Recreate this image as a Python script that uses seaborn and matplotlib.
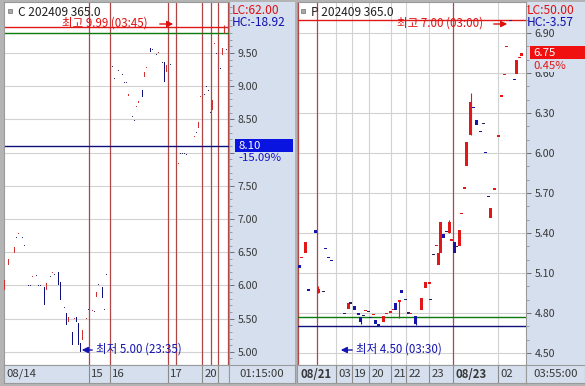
import numpy as np
import matplotlib
matplotlib.use("Agg")
import matplotlib.pyplot as plt
import matplotlib.transforms as mtransforms
from matplotlib.patches import Rectangle, FancyArrowPatch
from matplotlib.ticker import FixedLocator
import seaborn as sns

# ---------------- data: call option (left) ----------------
call_title = "C 202409 365.0"
call_lc = "LC:62.00"
call_hc = "HC:-18.92"
call_x = [0, 2, 5, 6, 7, 9, 10, 12, 13, 14, 16, 17, 18, 20, 21, 23, 24, 25, 27, 28,
          30, 31, 32, 34, 35, 36, 37, 38, 39, 41, 42, 44, 45, 46, 47, 49, 50, 51,
          54, 55, 57, 59, 60, 61, 62, 64, 65, 66, 67, 69, 70, 71, 73, 74, 76, 77, 79, 80, 81, 83,
          87, 88, 89, 90, 91, 95, 96, 97, 98, 100, 101, 102, 103, 104, 105, 106, 108, 109, 110, 111]
call_open = [5.93, 6.31, 6.49, 6.72, 6.785, 6.72, 6.60, 6.00, 6.00, 6.135, 6.15, 6.00, 6.00, 5.98, 5.93, 6.14, 6.185, 6.16, 6.20, 6.05,
             5.67, 5.58, 5.45, 5.30, 5.505, 5.52, 5.43, 5.13, 5.18, 5.505, 5.63, 5.625, 5.60, 5.83, 6.01, 5.97, 5.63, 6.16,
             9.30, 9.12, 9.24, 9.17, 9.06, 9.05, 8.85, 8.54, 8.49, 8.685, 8.74, 8.94, 9.14, 9.285, 9.57, 9.56, 9.47, 9.505, 9.36, 9.36, 9.22, 9.32,
             7.835, 7.98, 7.99, 7.98, 7.97, 8.245, 8.30, 8.37, 8.835, 8.87, 8.99, 8.945, 8.60, 8.64, 9.645, 9.50, 9.275, 9.47, 9.80, 9.55]
call_close = [6.08, 6.40, 6.58, 6.72, 6.79, 6.72, 6.60, 6.00, 6.00, 6.14, 6.15, 6.00, 6.00, 5.70, 6.04, 6.14, 6.19, 6.16, 6.00, 5.78,
              5.67, 5.40, 5.52, 5.10, 5.51, 5.45, 5.10, 5.00, 5.33, 5.51, 5.63, 5.63, 5.60, 5.90, 6.01, 5.81, 5.63, 6.16,
              9.30, 9.12, 9.24, 9.17, 9.06, 9.05, 8.88, 8.54, 8.49, 8.69, 8.77, 8.84, 9.21, 9.29, 9.52, 9.56, 9.47, 9.51, 9.36, 9.06, 9.32, 9.32,
              7.84, 7.98, 7.99, 7.98, 7.97, 8.25, 8.30, 8.46, 8.84, 8.87, 8.99, 8.94, 8.60, 8.79, 9.65, 9.50, 9.27, 9.57, 9.88, 9.55]
call_wick_x = [110]
call_wick_hi = [9.92]
call_wick_lo = [9.80]
call_sessions = [42.5, 53, 82, 86, 99, 103.6, 107, 111.75]
call_seps = [42.5, 53, 82, 99, 107]
call_date_pos = [0, 42.5, 53, 82, 99]
call_date_lab = ["08/14", "15", "16", "17", "20"]
call_date_bold = [False, False, False, False, False]
call_time = "01:15:00"
call_major = [5.0, 5.5, 6.0, 6.5, 7.0, 7.5, 8.0, 8.5, 9.0, 9.5]
call_major_lab = ["5.00", "5.50", "6.00", "6.50", "7.00", "7.50", "", "8.50", "9.00", "9.50"]
call_top_line = 9.89
call_green_line = 9.80
call_last = 8.10
call_last_lab = "8.10"
call_pct = "-15.09%"
call_max_lab = "최고 9.99 (03:45)"
call_min_lab = "최저 5.00 (23:35)"

# ---------------- data: put option (right) ----------------
put_title = "P 202409 365.0"
put_lc = "LC:50.00"
put_hc = "HC:-3.57"
put_x = [0.5, 1.5, 3, 4, 7, 8, 10, 11, 12, 13.5, 18.5, 20, 21, 22.5, 24, 25, 26, 27, 28, 29,
         30, 31, 32, 34, 35.5, 37, 38, 39, 40.5, 41.5, 43, 44, 45, 47, 49.5, 51, 52.5, 53, 54, 55.5,
         56, 57, 58, 59.5, 60.5, 61.5, 62.5, 63.5, 64.5, 65.5, 66.5, 67.5, 69, 70, 71.5, 73, 74, 75, 76, 77,
         78.5, 80, 81.5, 82.5, 83.5, 85, 86.5, 87.5, 88.5, 89.5]
put_open = [5.16, 5.21, 5.25, 4.975, 5.42, 4.95, 4.96, 5.285, 5.22, 5.20, 4.80, 4.83, 4.875, 4.85, 4.80, 4.77, 4.78, 4.815, 4.81, 4.77,
            4.785, 4.75, 4.72, 4.73, 4.795, 4.805, 4.82, 4.875, 4.88, 4.97, 4.90, 4.80, 4.795, 4.78, 4.82, 4.99, 5.02, 4.90, 5.24, 5.305,
            5.16, 5.25, 5.39, 5.41, 5.40, 5.345, 5.33, 5.30, 5.30, 5.545, 5.735, 5.90, 6.135, 6.345, 6.25, 6.165, 6.22, 6.01, 5.675, 5.51,
            5.725, 6.125, 6.425, 6.585, 6.795, 7.00, 6.555, 6.59, 6.715, 6.73]
put_close = [5.14, 5.22, 5.33, 4.97, 5.40, 4.98, 4.96, 5.28, 5.21, 5.19, 4.79, 4.875, 4.875, 4.82, 4.785, 4.73, 4.78, 4.82, 4.81, 4.76,
             4.79, 4.72, 4.705, 4.78, 4.80, 4.81, 4.83, 4.82, 4.90, 4.95, 4.90, 4.80, 4.80, 4.72, 4.91, 5.03, 5.03, 4.90, 5.24, 5.31,
             5.25, 5.48, 5.36, 5.41, 5.48, 5.35, 5.25, 5.30, 5.42, 5.55, 5.74, 6.08, 6.38, 6.34, 6.21, 6.16, 6.22, 6.00, 5.67, 5.59,
             5.74, 6.13, 6.43, 6.59, 6.80, 6.99, 6.55, 6.70, 6.72, 6.75]
put_wick_x = [8, 25, 40.5, 47, 60.5, 69]
put_wick_hi = [5.00, 4.77, 4.90, 4.78, 5.50, 6.45]
put_wick_lo = [4.95, 4.72, 4.76, 4.71, 5.40, 6.135]
put_sessions = [0, 7.6, 62]
put_vgrid = [15.2, 21.6, 28.4, 37.2, 43.2, 52.4, 80]
put_seps = [15.2, 21.6, 28.4, 37.2, 43.2, 52.4, 62, 80]
put_date_pos = [0, 15.2, 21.6, 28.4, 37.2, 43.2, 52.4, 62, 80]
put_date_lab = ["08/21", "03", "19", "20", "21", "22", "23", "08/23", "02"]
put_date_bold = [True, False, False, False, False, False, False, True, False]
put_time = "03:55:00"
put_major = [4.5, 4.8, 5.1, 5.4, 5.7, 6.0, 6.3, 6.6, 6.9]
put_major_lab = ["4.50", "4.80", "5.10", "5.40", "5.70", "6.00", "6.30", "6.60", "6.90"]
put_top_line = 7.00
put_green_line = 4.77
put_blue_line = 4.70
put_last = 6.75
put_last_lab = "6.75"
put_pct = "0.45%"
put_max_lab = "최고 7.00 (03:00)"
put_min_lab = "최저 4.50 (03:30)"

# ---------------- style ----------------
sns.set_theme(style="white")
plt.rcParams['font.family'] = ['Noto Sans CJK KR', 'DejaVu Sans']
plt.rcParams['axes.unicode_minus'] = False

W, H = 585, 386
STRIP = "#D5DFEE"
GRID = "#D2D2D2"
SESS = "#B04545"
RED = "#E01818"
BLUE = "#1414A8"
NAVY = "#10107A"
GREEN = "#0A7A0A"
TXT = "#383838"

fig = plt.figure(figsize=(W / 100, H / 100), dpi=100)
fig.patch.set_facecolor("#B4B4B4")
PX = mtransforms.Affine2D().scale(1 / W, -1 / H).translate(0, 1) + fig.transFigure


def rect(x0, y0, x1, y1):
    return [x0 / W, 1 - y1 / H, (x1 - x0) / W, (y1 - y0) / H]


def bg(x0, y0, x1, y1, fc):
    fig.add_artist(Rectangle((x0, y0), x1 - x0, y1 - y0, transform=PX,
                             facecolor=fc, edgecolor="none", zorder=-5))


def panel(px0, px1, strip_x1, xlim, ylim, x, o, c, wx, whi, wlo, width, minh,
          up, dn, doji, sessions, vgrid, major, major_lab, minor_step,
          seps, dpos, dlab, dbold, tlabel, hlines):
    bg(px1, 2, strip_x1, 365, STRIP)
    ax = fig.add_axes(rect(px0, 2, px1, 365))
    ax.set_facecolor("white")
    ax.set_xlim(*xlim)
    ax.set_ylim(*ylim)
    for g in major:
        ax.axhline(g, color=GRID, lw=0.8, zorder=0.5)
    for g in vgrid:
        ax.axvline(g, color=GRID, lw=0.8, zorder=0.5)
    for s in sessions:
        ax.axvline(s, color=SESS, lw=0.9, zorder=1)
    for val, col, lw in hlines:
        ax.axhline(val, color=col, lw=lw, zorder=2)
    x = np.asarray(x, float)
    o = np.asarray(o, float)
    c = np.asarray(c, float)
    h = np.maximum(np.abs(c - o), minh)
    bottom = (o + c) / 2 - h / 2
    cols = np.where(c > o, up, np.where(c < o, dn, doji))
    wcols = [cols[list(x).index(w)] for w in wx]
    ax.vlines(wx, wlo, whi, colors=wcols, lw=0.8, zorder=3)
    ax.bar(x, h, bottom=bottom, width=width, color=cols, linewidth=0, zorder=4)
    ax.yaxis.tick_right()
    ax.set_yticks(major)
    ax.set_yticklabels(major_lab)
    mn = np.arange(ylim[0] - ylim[0] % minor_step, ylim[1], minor_step)
    ax.yaxis.set_minor_locator(FixedLocator(mn))
    ax.tick_params(axis="y", which="major", right=True, direction="out", length=3.5,
                   width=0.7, color="#707070", pad=2.5, labelsize=7.6, labelcolor=TXT)
    ax.tick_params(axis="y", which="minor", right=True, direction="out", length=2,
                   width=0.6, color="#909090")
    ax.set_xticks([])
    for sp in ax.spines.values():
        sp.set_color("#9A9A9A")
        sp.set_linewidth(0.8)

    bx = fig.add_axes(rect(px0, 365, px1, 383))
    bx.set_facecolor(STRIP)
    bx.set_xlim(*xlim)
    bx.set_ylim(0, 1)
    bx.set_xticks([])
    bx.set_yticks([])
    for s in seps:
        bx.axvline(s, color="#8A8A8A", lw=0.8)
    for p, lab, b in zip(dpos, dlab, dbold):
        bx.annotate(lab, (p, 0.5), xytext=(1.6, 0), textcoords="offset points",
                    ha="left", va="center", fontsize=8.2, color=TXT,
                    fontweight="bold" if b else "normal")
    for sp in bx.spines.values():
        sp.set_color("#9A9A9A")
        sp.set_linewidth(0.8)
    tx = fig.add_axes(rect(px1, 365, strip_x1, 383))
    tx.set_facecolor(STRIP)
    tx.set_xticks([])
    tx.set_yticks([])
    tx.text(0.5, 0.5, tlabel, ha="center", va="center", fontsize=8.2, color=TXT,
            transform=tx.transAxes)
    for sp in tx.spines.values():
        sp.set_color("#9A9A9A")
        sp.set_linewidth(0.8)
    return ax


# left panel: 2 px per bar, 66.4 px per price unit
axL = panel(4, 229, 295, (0, 112.5), (9.5 - 312 / 66.4, 9.5 + 51 / 66.4),
            call_x, call_open, call_close, call_wick_x, call_wick_hi, call_wick_lo,
            0.5, 1.0 / 66.4, "#D03030", NAVY, "#303068",
            call_sessions, [], call_major, call_major_lab, 0.1,
            call_seps, call_date_pos, call_date_lab, call_date_bold, call_time,
            [(call_top_line, RED, 1.0), (call_green_line, GREEN, 1.0), (call_last, NAVY, 1.0)])

# right panel: 2.5 px per bar, 133.3 px per price unit
axR = panel(297, 526, 585, (-0.4, 91.2), (6.9 - 332 / 133.33, 6.9 + 31 / 133.33),
            put_x, put_open, put_close, put_wick_x, put_wick_hi, put_wick_lo,
            1.2, 1.6 / 133.33, RED, BLUE, "#202060",
            put_sessions, put_vgrid, put_major, put_major_lab, 0.1,
            put_seps, put_date_pos, put_date_lab, put_date_bold, put_time,
            [(put_top_line, RED, 1.0), (put_green_line, GREEN, 1.0), (put_blue_line, NAVY, 1.0)])

# last price boxes
yT = axL.get_yaxis_transform()
axL.add_patch(Rectangle((1 + 6 / 225, call_last - 6.5 / 66.4), 58 / 225, 13 / 66.4,
                        transform=yT, facecolor="#0A14E0", edgecolor="none",
                        clip_on=False, zorder=6))
axL.annotate(call_last_lab, (1, call_last), xycoords=yT, xytext=(7, 0),
             textcoords="offset points", color="white", fontsize=8.2, va="center",
             ha="left", zorder=7, annotation_clip=False)
axL.annotate(call_pct, (1, call_last), xycoords=yT, xytext=(6.5, -8.5),
             textcoords="offset points", color="#1414C8", fontsize=8.2, va="center",
             ha="left", zorder=7, annotation_clip=False,
             bbox=dict(facecolor=STRIP, edgecolor="none", pad=0.3))

yR = axR.get_yaxis_transform()
axR.add_patch(Rectangle((1 + 4 / 229, put_last - 6.5 / 133.33), 60 / 229, 13 / 133.33,
                        transform=yR, facecolor="#F01010", edgecolor="none",
                        clip_on=False, zorder=6))
axR.annotate(put_last_lab, (1, put_last), xycoords=yR, xytext=(5.5, 0),
             textcoords="offset points", color="white", fontsize=8.2, va="center",
             ha="left", zorder=7, annotation_clip=False)
axR.annotate(put_pct, (1, put_last), xycoords=yR, xytext=(5.5, -9.5),
             textcoords="offset points", color="#E01818", fontsize=8.2, va="center",
             ha="left", zorder=7, annotation_clip=False,
             bbox=dict(facecolor=STRIP, edgecolor="none", pad=0.3))

# headers
for x0, title in [(4, call_title), (297, put_title)]:
    fig.add_artist(Rectangle((x0 + 4, 9), 4, 4, transform=PX, facecolor="#A8A8A8",
                             edgecolor="#707070", lw=0.5, zorder=10))
    fig.text(x0 + 14, 12, title, transform=PX, fontsize=8.6, color="#202020",
             va="center", ha="left", zorder=10)
for x0, lc, hc in [(232, call_lc, call_hc), (527, put_lc, put_hc)]:
    fig.text(x0, 10, lc, transform=PX, fontsize=8.6, color="#E01010", va="center", ha="left", zorder=10)
    fig.text(x0, 22, hc, transform=PX, fontsize=8.6, color="#1010B0", va="center", ha="left", zorder=10)

# max / min markers
for tx0, ax0, ax1, lab in [(62, 157, 176, call_max_lab), (397, 491, 510, put_max_lab)]:
    fig.text(tx0, 23, lab, transform=PX, fontsize=8.3, color="#E01010", va="center", ha="left", zorder=10)
    fig.add_artist(FancyArrowPatch((ax0, 24), (ax1, 24), transform=PX, arrowstyle="-|>",
                                   mutation_scale=9, color="#E01010", lw=1.0, zorder=10))
for a0, a1, tx0, lab in [(95, 79, 96, call_min_lab), (355, 338, 356, put_min_lab)]:
    fig.add_artist(FancyArrowPatch((a0, 350), (a1, 350), transform=PX, arrowstyle="-|>",
                                   mutation_scale=9, color="#1414B0", lw=1.0, zorder=10))
    fig.text(tx0, 349, lab, transform=PX, fontsize=8.3, color="#1414B0", va="center", ha="left", zorder=10)

fig.savefig("out.png", dpi=100, facecolor=fig.get_facecolor())
